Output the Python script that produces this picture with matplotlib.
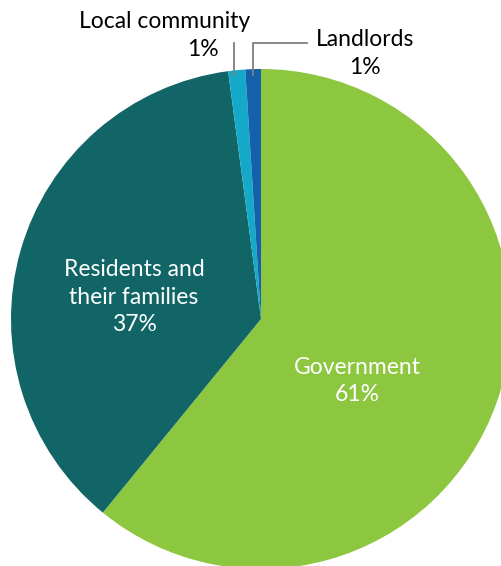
import matplotlib.pyplot as plt

# Data
labels = ["Government", "Residents and\ntheir families", "Local community", "Landlords"]
shares = [60.9, 37.0, 1.1, 1.0]
colors = ["#8DC63F", "#116566", "#14A9C8", "#1560AA"]

W, H = 501, 566
plt.rcParams['font.family'] = ['Lato', 'DejaVu Sans']

fig = plt.figure(figsize=(W / 100, H / 100), dpi=100)
ax = fig.add_axes([0, 0, 1, 1])

# pie centre / radius in pixel space (y measured from the bottom)
cx, cy, r = 261, H - 319, 250
ax.pie(shares, colors=colors, startangle=90, counterclock=False,
       center=(cx, cy), radius=r, frame=True,
       wedgeprops=dict(linewidth=0))
ax.set_xlim(0, W)
ax.set_ylim(0, H)
ax.set_aspect('equal')
ax.axis('off')

pct = [f"{v:.0f}%" for v in shares]
fs = 16.5

# inside labels
ax.text(134, H - 297, f"{labels[1]}\n{pct[1]}", color='white', fontsize=fs,
        ha='center', va='center', linespacing=1.36)
ax.text(357, H - 381, f"{labels[0]}\n{pct[0]}", color='white', fontsize=fs,
        ha='center', va='center', linespacing=1.36)

# outside labels
ax.text(165, H - 21, labels[2], fontsize=fs, ha='center', va='center', color='black')
ax.text(203, H - 50, pct[2], fontsize=fs, ha='center', va='center', color='black')
ax.text(365, H - 39, labels[3], fontsize=fs, ha='center', va='center', color='black')
ax.text(365, H - 68, pct[3], fontsize=fs, ha='center', va='center', color='black')

# leader lines
lc = '#7f7f7f'
ax.plot([234, 234], [H - 43, H - 75], color=lc, lw=1.3)
ax.plot([307, 253, 253], [H - 43, H - 43, H - 75], color=lc, lw=1.3)

fig.savefig('out.png', dpi=100)
